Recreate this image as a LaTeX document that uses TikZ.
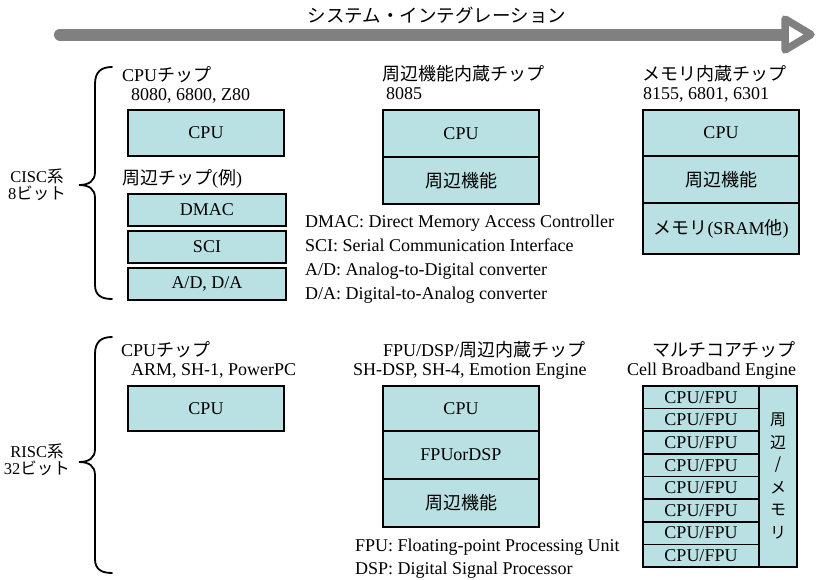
\documentclass[tikz,border=0pt]{standalone}
\usepackage{fontspec}
\setmainfont{Liberation Serif}
\newfontfamily\jpf{Noto Sans CJK JP}
\newcommand{\jp}[1]{{\jpf #1}}
\definecolor{boxfill}{RGB}{185,224,226}
\definecolor{arrowgray}{RGB}{128,128,128}
\begin{document}
\begin{tikzpicture}[x=1pt,y=-1pt,
  font=\fontsize{18}{22}\selectfont,
  blk/.style={draw=black, line width=1.6pt, fill=boxfill, inner sep=0pt},
  lbl/.style={anchor=base west, inner sep=0pt},
  bracepath/.style={draw=black, line width=1.8pt, line cap=round},
  sidechar/.style={inner sep=0pt, font=\jpf\fontsize{16}{18}\selectfont},
  grp/.style={align=center, inner sep=0pt, font=\fontsize{16.5}{17}\selectfont}]
\useasboundingbox (0,0) rectangle (817,579);

% title arrow
\node[inner sep=0pt, font=\jpf\fontsize{18.5}{20}\selectfont] (title) at (437,15) {システム・インテグレーション};
\coordinate (shaftL) at (60,34.5);
\coordinate (shaftR) at (786,34.5);
\coordinate (headA) at (785,19);
\coordinate (headB) at (785,50);
\coordinate (headC) at (811,34.5);
\draw[arrowgray, line width=12pt, line cap=round] (shaftL) -- (shaftR);
\draw[arrowgray, line width=7.5pt, line join=round, fill=white] (headA) -- (headC) -- (headB) -- cycle;

% braces
\draw[bracepath] (112,67) .. controls (101,67) and (95,72) .. (95,84) -- (95,172)
  .. controls (95,181) and (89,185) .. (79,185)
  .. controls (89,185) and (95,189) .. (95,198) -- (95,285)
  .. controls (95,295) and (101,299) .. (112,299);
\draw[bracepath] (112,337) .. controls (101,337) and (95,342) .. (95,354) -- (95,449)
  .. controls (95,458) and (89,462) .. (79,462)
  .. controls (89,462) and (95,466) .. (95,475) -- (95,559)
  .. controls (95,569) and (101,573) .. (112,573);

\node[grp] (cisc) at (37,184.5) {CISC\jp{系}\\8\jp{ビット}};
\node[grp] (risc) at (37,459.5) {RISC\jp{系}\\32\jp{ビット}};

% ---- CISC row ----
\node[lbl] (hA1) at (122,81) {CPU\jp{チップ}};
\node[lbl] (hA2) at (131,100) {8080, 6800, Z80};
\node[blk, minimum width=156pt, minimum height=46pt] (cpuA) at (206,133) {CPU};
\node[lbl] (hA3) at (122,184) {\jp{周辺チップ}(\jp{例})};
\node[blk, minimum width=158pt, minimum height=32pt] (dmac) at (207,210) {DMAC};
\node[blk, minimum width=158pt, minimum height=32pt] (sci) at (207,247) {SCI};
\node[blk, minimum width=158pt, minimum height=32pt] (adda) at (207,284) {A/D, D/A};

\node[lbl] (hB1) at (382,80) {\jp{周辺機能内蔵チップ}};
\node[lbl] (hB2) at (386,99) {8085};
\node[blk, minimum width=156pt, minimum height=47pt] (cpuB) at (461,133.5) {CPU};
\node[blk, minimum width=156pt, minimum height=47pt] (perB) at (461,180.5) {\jp{周辺機能}};
\node[lbl] (lg1) at (305,227) {DMAC: Direct Memory Access Controller};
\node[lbl] (lg2) at (305,251) {SCI: Serial Communication Interface};
\node[lbl] (lg3) at (305,275) {A/D: Analog-to-Digital converter};
\node[lbl] (lg4) at (305,299) {D/A: Digital-to-Analog converter};

\node[lbl] (hC1) at (642,80) {\jp{メモリ内蔵チップ}};
\node[lbl] (hC2) at (643,99) {8155, 6801, 6301};
\node[blk, minimum width=156pt, minimum height=46pt] (cpuC) at (721,133) {CPU};
\node[blk, minimum width=156pt, minimum height=47pt] (perC) at (721,179.5) {\jp{周辺機能}};
\node[blk, minimum width=156pt, minimum height=51pt] (memC) at (721,228.5) {\jp{メモリ}(SRAM\jp{他})};

% ---- RISC row ----
\node[lbl] (hD1) at (121,356) {CPU\jp{チップ}};
\node[lbl] (hD2) at (131,375) {ARM, SH-1, PowerPC};
\node[blk, minimum width=156pt, minimum height=45pt] (cpuD) at (206,408.5) {CPU};

\node[lbl] (hE1) at (383,356) {FPU/DSP/\jp{周辺内蔵チップ}};
\node[lbl] (hE2) at (353,375) {SH-DSP, SH-4, Emotion Engine};
\node[blk, minimum width=156pt, minimum height=45pt] (cpuE) at (461,408.5) {CPU};
\node[blk, minimum width=156pt, minimum height=48pt] (fpuE) at (461,455) {FPUorDSP};
\node[blk, minimum width=156pt, minimum height=48pt] (perE) at (461,503) {\jp{周辺機能}};
\node[lbl] (lg5) at (355,551) {FPU: Floating-point Processing Unit};
\node[lbl] (lg6) at (355,574) {DSP: Digital Signal Processor};

\node[lbl] (hF1) at (652,356) {\jp{マルチコアチップ}};
\node[lbl] (hF2) at (627,375) {Cell Broadband Engine};
\foreach \i in {1,...,8}{
  \node[blk, minimum width=116pt, minimum height=22.6pt] (core\i) at (701,{386+22.625*(\i-0.5)}) {CPU/FPU};
}
\node[blk, minimum width=38pt, minimum height=181pt] (side) at (778,476.5) {};
\node[sidechar] (sc1) at (778,420) {周};
\node[sidechar] (sc2) at (778,442.5) {辺};
\node[sidechar] (sc3) at (778,465) {/};
\node[sidechar] (sc4) at (778,487.5) {メ};
\node[sidechar] (sc5) at (778,510) {モ};
\node[sidechar] (sc6) at (778,532.5) {リ};
\end{tikzpicture}
\end{document}
